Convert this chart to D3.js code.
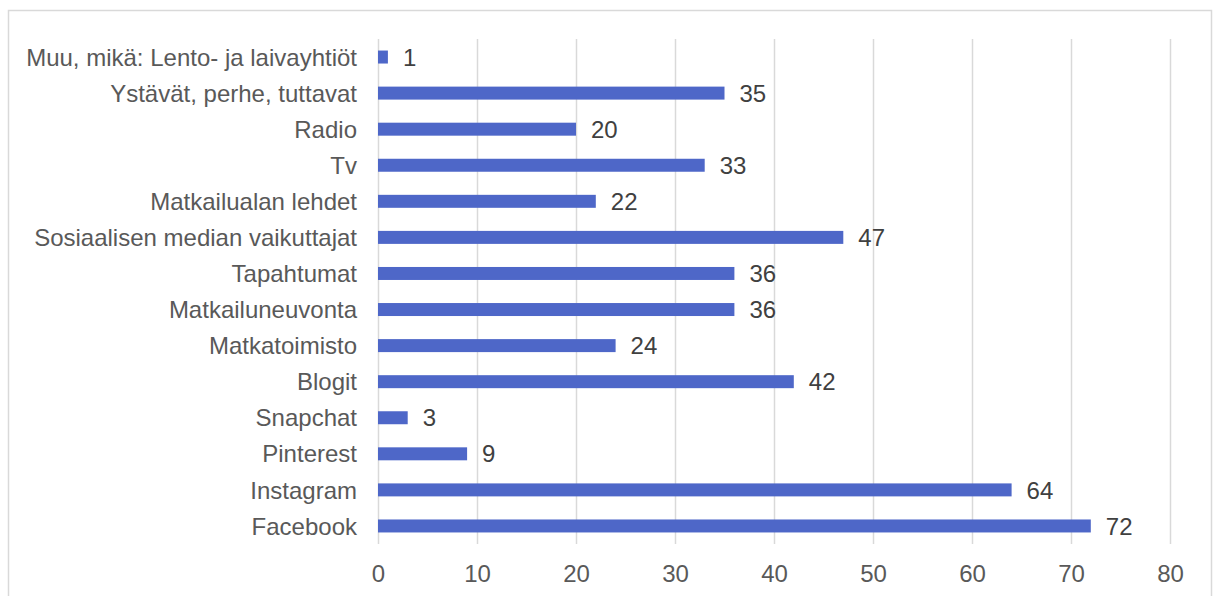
<!DOCTYPE html>
<html>
<head>
<meta charset="utf-8">
<script src="https://cdn.jsdelivr.net/npm/d3@7"></script>
<style>
  body { margin: 0; background: #fff; }
  text { font-family: "Liberation Sans", Arial, sans-serif; }
</style>
</head>
<body>
<div id="chart"></div>
<script>
// categories from top to bottom
var categories = ["Muu, mikä: Lento- ja laivayhtiöt", "Ystävät, perhe, tuttavat", "Radio", "Tv",
  "Matkailualan lehdet", "Sosiaalisen median vaikuttajat", "Tapahtumat", "Matkailuneuvonta",
  "Matkatoimisto", "Blogit", "Snapchat", "Pinterest", "Instagram", "Facebook"];
var values = [1, 35, 20, 33, 22, 47, 36, 36, 24, 42, 3, 9, 64, 72];
var xTicks = [0, 10, 20, 30, 40, 50, 60, 70, 80];

var W = 1218, H = 596;
var margin = {top: 39, right: 48, bottom: 52, left: 378},
    width = W - margin.left - margin.right,
    height = H - margin.top - margin.bottom;
var fs = 24;

var svg = d3.select("#chart").append("svg")
    .attr("width", W)
    .attr("height", H);

// outer chart border
svg.append("rect")
    .attr("x", 8.5).attr("y", 10.5)
    .attr("width", 1203).attr("height", 600)
    .attr("fill", "none")
    .attr("stroke", "#d9d9d9")
    .attr("stroke-width", 1.5);

var g = svg.append("g").attr("transform", "translate(" + margin.left + "," + margin.top + ")");

var x = d3.scaleLinear().domain([0, 80]).range([0, width]);
var y = d3.scaleBand().domain(categories).range([0, height]).paddingInner(0.64).paddingOuter(0.32);

// gridlines
g.append("g")
  .selectAll("line")
  .data(xTicks)
  .enter().append("line")
    .attr("x1", function(d) { return Math.round(x(d)) + 0.5; })
    .attr("x2", function(d) { return Math.round(x(d)) + 0.5; })
    .attr("y1", 0)
    .attr("y2", height)
    .attr("stroke", "#d9d9d9")
    .attr("stroke-width", 1.5);

// bars
g.append("g")
  .selectAll("rect")
  .data(values)
  .enter().append("rect")
    .attr("x", x(0))
    .attr("y", function(d, i) { return y(categories[i]); })
    .attr("width", function(d) { return x(d) - x(0); })
    .attr("height", y.bandwidth())
    .attr("fill", "#4e67c8");

// value labels
g.append("g")
  .selectAll("text")
  .data(values)
  .enter().append("text")
    .attr("x", function(d) { return x(d) + 15; })
    .attr("y", function(d, i) { return y(categories[i]) + y.bandwidth() / 2; })
    .attr("dy", "0.36em")
    .attr("font-size", fs)
    .attr("fill", "#404040")
    .text(function(d) { return d; });

// y axis labels
var yAxis = g.append("g")
    .call(d3.axisLeft(y).tickSize(0).tickPadding(21));
yAxis.select(".domain").remove();
yAxis.selectAll("text")
    .attr("font-size", fs)
    .attr("dy", "0.36em")
    .style("font-family", "'Liberation Sans', Arial, sans-serif")
    .attr("fill", "#595959");

// x axis labels
var xAxis = g.append("g")
    .attr("transform", "translate(0," + height + ")")
    .call(d3.axisBottom(x).tickValues(xTicks).tickSize(0).tickPadding(21));
xAxis.select(".domain").remove();
xAxis.selectAll("text")
    .attr("font-size", fs)
    .style("font-family", "'Liberation Sans', Arial, sans-serif")
    .attr("fill", "#595959");
</script>
</body>
</html>
